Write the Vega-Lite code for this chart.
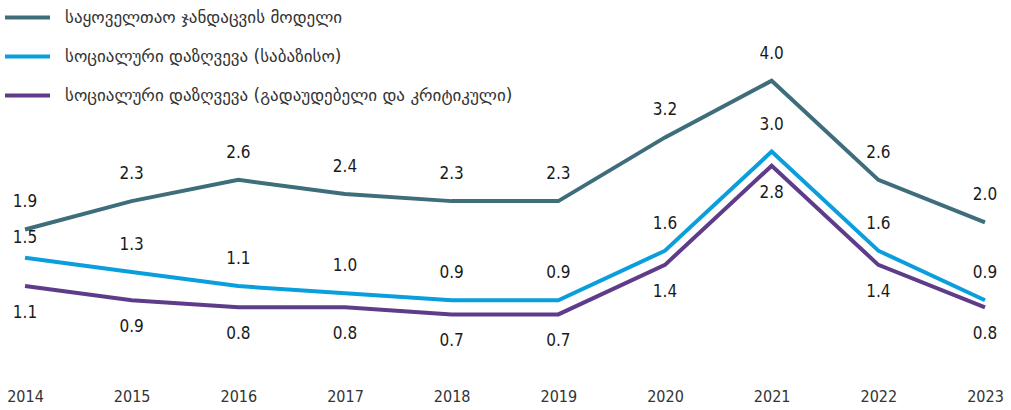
{
  "$schema": "https://vega.github.io/schema/vega-lite/v6.json",
  "width": 960,
  "height": 364,
  "autosize": {"type": "none"},
  "padding": {"left": 25, "top": 0, "right": 26, "bottom": 46},
  "config": {"view": {"stroke": null}, "font": "DejaVu Sans Condensed, sans-serif"},
  "data": {"values": [
    {"year": 2014, "series": "საყოველთაო ჯანდაცვის მოდელი", "value": 1.9},
    {"year": 2015, "series": "საყოველთაო ჯანდაცვის მოდელი", "value": 2.3},
    {"year": 2016, "series": "საყოველთაო ჯანდაცვის მოდელი", "value": 2.6},
    {"year": 2017, "series": "საყოველთაო ჯანდაცვის მოდელი", "value": 2.4},
    {"year": 2018, "series": "საყოველთაო ჯანდაცვის მოდელი", "value": 2.3},
    {"year": 2019, "series": "საყოველთაო ჯანდაცვის მოდელი", "value": 2.3},
    {"year": 2020, "series": "საყოველთაო ჯანდაცვის მოდელი", "value": 3.2},
    {"year": 2021, "series": "საყოველთაო ჯანდაცვის მოდელი", "value": 4.0},
    {"year": 2022, "series": "საყოველთაო ჯანდაცვის მოდელი", "value": 2.6},
    {"year": 2023, "series": "საყოველთაო ჯანდაცვის მოდელი", "value": 2.0},
    {"year": 2014, "series": "სოციალური დაზღვევა (საბაზისო)", "value": 1.5},
    {"year": 2015, "series": "სოციალური დაზღვევა (საბაზისო)", "value": 1.3},
    {"year": 2016, "series": "სოციალური დაზღვევა (საბაზისო)", "value": 1.1},
    {"year": 2017, "series": "სოციალური დაზღვევა (საბაზისო)", "value": 1.0},
    {"year": 2018, "series": "სოციალური დაზღვევა (საბაზისო)", "value": 0.9},
    {"year": 2019, "series": "სოციალური დაზღვევა (საბაზისო)", "value": 0.9},
    {"year": 2020, "series": "სოციალური დაზღვევა (საბაზისო)", "value": 1.6},
    {"year": 2021, "series": "სოციალური დაზღვევა (საბაზისო)", "value": 3.0},
    {"year": 2022, "series": "სოციალური დაზღვევა (საბაზისო)", "value": 1.6},
    {"year": 2023, "series": "სოციალური დაზღვევა (საბაზისო)", "value": 0.9},
    {"year": 2014, "series": "სოციალური დაზღვევა (გადაუდებელი და კრიტიკული)", "value": 1.1},
    {"year": 2015, "series": "სოციალური დაზღვევა (გადაუდებელი და კრიტიკული)", "value": 0.9},
    {"year": 2016, "series": "სოციალური დაზღვევა (გადაუდებელი და კრიტიკული)", "value": 0.8},
    {"year": 2017, "series": "სოციალური დაზღვევა (გადაუდებელი და კრიტიკული)", "value": 0.8},
    {"year": 2018, "series": "სოციალური დაზღვევა (გადაუდებელი და კრიტიკული)", "value": 0.7},
    {"year": 2019, "series": "სოციალური დაზღვევა (გადაუდებელი და კრიტიკული)", "value": 0.7},
    {"year": 2020, "series": "სოციალური დაზღვევა (გადაუდებელი და კრიტიკული)", "value": 1.4},
    {"year": 2021, "series": "სოციალური დაზღვევა (გადაუდებელი და კრიტიკული)", "value": 2.8},
    {"year": 2022, "series": "სოციალური დაზღვევა (გადაუდებელი და კრიტიკული)", "value": 1.4},
    {"year": 2023, "series": "სოციალური დაზღვევა (გადაუდებელი და კრიტიკული)", "value": 0.8}
  ]},
  "encoding": {
    "x": {"field": "year", "type": "ordinal", "scale": {"type": "point", "padding": 0},
      "axis": {"title": null, "labelAngle": 0, "domain": false, "ticks": false, "grid": false,
        "labelPadding": 24, "labelFontSize": 16, "labelColor": "#333"}},
    "y": {"field": "value", "type": "quantitative", "scale": {"domain": [0, 5.14], "nice": false, "zero": true}, "axis": null}
  },
  "layer": [
    {
      "mark": {"type": "line", "strokeWidth": 4},
      "encoding": {
        "color": {"field": "series", "type": "nominal",
          "scale": {"domain": ["საყოველთაო ჯანდაცვის მოდელი", "სოციალური დაზღვევა (საბაზისო)", "სოციალური დაზღვევა (გადაუდებელი და კრიტიკული)"],
            "range": ["#3E6E7B", "#0A9FDC", "#5F3C8A"]},
          "legend": {"orient": "none", "legendX": -22, "legendY": -7, "direction": "vertical", "title": null,
            "symbolType": "stroke", "symbolSize": 2025, "symbolStrokeWidth": 4,
            "labelFont": "DejaVu Sans", "labelFontSize": 17, "labelColor": "#333", "labelLimit": 0,
            "labelOffset": 13, "rowPadding": 6, "padding": 0}
        }
      }
    },
    {
      "transform": [{"filter": "datum.series == 'საყოველთაო ჯანდაცვის მოდელი' || (datum.series == 'სოციალური დაზღვევა (საბაზისო)' && datum.year != 2014)"}],
      "mark": {"type": "text", "dy": -27, "fontSize": 17, "color": "#1a1a1a"},
      "encoding": {"text": {"field": "value", "type": "quantitative", "format": ".1f"}}
    },
    {
      "transform": [{"filter": "datum.series == 'სოციალური დაზღვევა (საბაზისო)' && datum.year == 2014"}],
      "mark": {"type": "text", "dy": -20, "fontSize": 17, "color": "#1a1a1a"},
      "encoding": {"text": {"field": "value", "type": "quantitative", "format": ".1f"}}
    },
    {
      "transform": [{"filter": "datum.series == 'სოციალური დაზღვევა (გადაუდებელი და კრიტიკული)'"}],
      "mark": {"type": "text", "dy": 27, "fontSize": 17, "color": "#1a1a1a"},
      "encoding": {"text": {"field": "value", "type": "quantitative", "format": ".1f"}}
    }
  ]
}
